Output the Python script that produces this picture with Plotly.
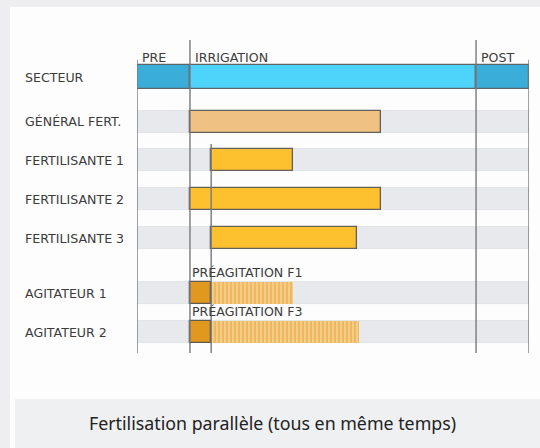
import plotly.graph_objects as go

# ---------------- data ----------------
rows = ["SECTEUR", "GÉNÉRAL FERT.", "FERTILISANTE 1", "FERTILISANTE 2",
        "FERTILISANTE 3", "AGITATEUR 1", "AGITATEUR 2"]
phase_names = ["PRE", "IRRIGATION", "POST"]
phase_start = [0, 10, 64]
phase_end = [10, 64, 74]

fert_rows = ["GÉNÉRAL FERT.", "FERTILISANTE 1", "FERTILISANTE 2", "FERTILISANTE 3"]
fert_start = [10, 14, 10, 14]
fert_end = [46, 29.5, 46, 41.5]

agit_rows = ["AGITATEUR 1", "AGITATEUR 2"]
preag_start = [10, 10]
preag_end = [14, 14]
agit_end = [29.5, 42]
agit_labels = ["PRÉAGITATION F1", "PRÉAGITATION F3"]

caption = "Fertilisation parallèle (tous en même temps)"

# ---------------- layout helpers ----------------
W, H = 540, 448
ML, MR, MT, MB = 137, 11, 40, 95
row_pos = [0, 1.15, 2.13, 3.13, 4.13, 5.54, 6.54]
pos = dict(zip(rows, row_pos))
YR = [7.077, -0.949]
BW = 0.6
XMAX = phase_end[-1]


def px(x):
    return (x - ML) / (W - ML - MR)


def py(y):
    return (H - MB - y) / (H - MT - MB)


fig = go.Figure()

# grey background bands
band_rows = rows[1:]
fig.add_trace(go.Bar(orientation="h", y=[pos[r] for r in band_rows],
                     x=[XMAX] * len(band_rows), base=[0] * len(band_rows),
                     width=0.58, marker=dict(color="#e8e9ed", line=dict(color="#dcdee3", width=0.8)),
                     hoverinfo="skip", showlegend=False))

# secteur phases
sect_cols = ["#3aaed8", "#4ed4fb", "#3aaed8"]
fig.add_trace(go.Bar(orientation="h", y=[pos["SECTEUR"]] * 3,
                     x=[e - s for s, e in zip(phase_start, phase_end)],
                     base=phase_start, width=BW,
                     marker=dict(color=sect_cols, line=dict(color="#5e6468", width=1.2)),
                     showlegend=False))

# fertilisation bars
fert_cols = ["#efc283", "#fdc02e", "#fdc02e", "#fdc02e"]
fig.add_trace(go.Bar(orientation="h", y=[pos[r] for r in fert_rows],
                     x=[e - s for s, e in zip(fert_start, fert_end)],
                     base=fert_start, width=0.58,
                     marker=dict(color=fert_cols, line=dict(color="#62605a", width=1.3)),
                     showlegend=False))

# agitation (hatched)
fig.add_trace(go.Bar(orientation="h", y=[pos[r] for r in agit_rows],
                     x=[e - s for s, e in zip(preag_end, agit_end)],
                     base=preag_end, width=0.58,
                     marker=dict(color="#f7d38f",
                                 pattern=dict(shape="|", fgcolor="#e8a02c",
                                              bgcolor="#f6d08e", size=4, solidity=0.55),
                                 line=dict(width=0)),
                     showlegend=False))

# pre-agitation block
fig.add_trace(go.Bar(orientation="h", y=[pos[r] for r in agit_rows],
                     x=[e - s for s, e in zip(preag_start, preag_end)],
                     base=preag_start, width=0.58,
                     marker=dict(color="#e0981e", line=dict(color="#5e5a50", width=1.3)),
                     showlegend=False))

# vertical phase lines
line_col = "#77797c"
vlines = [(phase_start[0], -0.44), (phase_start[1], YR[1]), (fert_start[1], 1.72),
          (phase_start[2], YR[1] - 0.05), (phase_end[2], -0.44)]
shapes = []
for xv, ytop in vlines:
    shapes.append(dict(type="line", xref="x", yref="y", x0=xv, x1=xv, y0=ytop, y1=YR[0],
                       line=dict(color=line_col, width=1.4), layer="above"))

# frame & caption box (behind)
shapes.insert(0, dict(type="rect", xref="paper", yref="paper", x0=px(10), x1=px(W),
                      y0=py(H), y1=py(7), fillcolor="#fdfdfd", line=dict(width=0), layer="below"))
shapes.insert(1, dict(type="rect", xref="paper", yref="paper", x0=px(15), x1=px(W),
                      y0=py(H), y1=py(399), fillcolor="#eff0f2", line=dict(width=0), layer="below"))

annotations = []
lab_font = dict(family="DejaVu Sans", size=12.6, color="#3c3c3c")
for r in rows:
    annotations.append(dict(xref="paper", yref="y", x=px(23), y=pos[r], text=r,
                            showarrow=False, xanchor="left", yanchor="middle", font=lab_font))
for name, s in zip(phase_names, phase_start):
    annotations.append(dict(xref="x", yref="y", x=s, y=-0.51, text=name, xshift=3,
                            showarrow=False, xanchor="left", yanchor="middle", font=lab_font))
for r, s, t in zip(agit_rows, preag_start, agit_labels):
    annotations.append(dict(xref="x", yref="y", x=s, y=pos[r] - 0.31, text=t,
                            showarrow=False, xanchor="left", yanchor="bottom", yshift=-1,
                            font=lab_font))
annotations.append(dict(xref="paper", yref="paper", x=px(272), y=py(423), text=caption,
                        showarrow=False, xanchor="center", yanchor="middle",
                        font=dict(family="Noto Sans", size=17.8, color="#222222")))

fig.update_layout(
    width=W, height=H, margin=dict(l=ML, r=MR, t=MT, b=MB),
    paper_bgcolor="#eeeef0", plot_bgcolor="rgba(0,0,0,0)",
    barmode="overlay", bargap=0,
    xaxis=dict(range=[0, XMAX], showgrid=False, zeroline=False, showticklabels=False,
               ticks=""),
    yaxis=dict(range=YR, showgrid=False, zeroline=False, showticklabels=False, ticks=""),
    shapes=shapes, annotations=annotations,
)

fig.write_html("out.html", config={"displayModeBar": False},
               post_script="document.body.style.margin='0';")
